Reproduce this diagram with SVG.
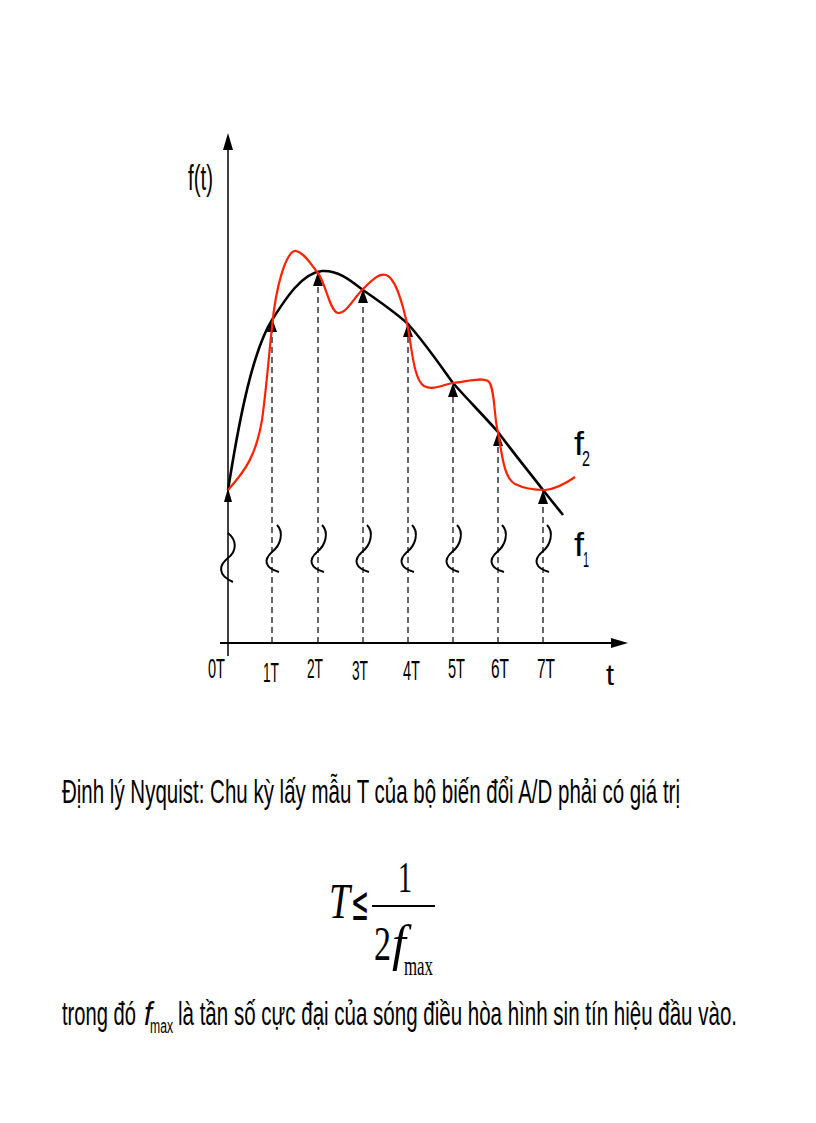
<svg xmlns="http://www.w3.org/2000/svg" width="816" height="1123" viewBox="0 0 816 1123">
<style>
.lbl{font-family:"Liberation Sans",Arial,sans-serif;fill:#000}
.ser{font-family:"Liberation Serif","Times New Roman",serif;fill:#000}
.dash{stroke:#000;stroke-width:1.2;stroke-dasharray:6,4;fill:none}
.sq{stroke:#000;stroke-width:2;fill:none}
.ah{fill:#000}
</style>
<rect width="816" height="1123" fill="#fff"/>
<g id="axes">
<line x1="228" y1="148" x2="228" y2="656" stroke="#000" stroke-width="1.5"/>
<polygon class="ah" points="228,133 223,150 233,150"/>
<line x1="220" y1="643" x2="614" y2="643" stroke="#000" stroke-width="2"/>
<polygon class="ah" points="628,643 611,638 611,648"/>
<text class="lbl" x="188" y="190" font-size="35" textLength="25" lengthAdjust="spacingAndGlyphs">f(t)</text>
<text class="lbl" x="606" y="685" font-size="30" textLength="8" lengthAdjust="spacingAndGlyphs">t</text>
</g>
<g id="tick-labels" class="lbl" font-size="27">
<text x="208" y="678" textLength="17" lengthAdjust="spacingAndGlyphs">0T</text>
<text x="263" y="682" textLength="16" lengthAdjust="spacingAndGlyphs">1T</text>
<text x="307" y="678" textLength="16" lengthAdjust="spacingAndGlyphs">2T</text>
<text x="352" y="680" textLength="16" lengthAdjust="spacingAndGlyphs">3T</text>
<text x="403" y="680" textLength="17" lengthAdjust="spacingAndGlyphs">4T</text>
<text x="448" y="678" textLength="17" lengthAdjust="spacingAndGlyphs">5T</text>
<text x="491" y="678" textLength="18" lengthAdjust="spacingAndGlyphs">6T</text>
<text x="537" y="678" textLength="18" lengthAdjust="spacingAndGlyphs">7T</text>
</g>
<g id="connectors">
<line class="dash" x1="272" y1="643" x2="272" y2="330"/>
<line class="dash" x1="318" y1="643" x2="318" y2="284"/>
<line class="dash" x1="363" y1="643" x2="363" y2="301"/>
<line class="dash" x1="408" y1="643" x2="408" y2="335"/>
<line class="dash" x1="453" y1="643" x2="453" y2="395"/>
<line class="dash" x1="498" y1="643" x2="498" y2="444"/>
<line class="dash" x1="543" y1="643" x2="543" y2="502"/>
<polygon class="ah" points="228,488 224,502 232,502"/>
<polygon class="ah" points="272,318 267,332 277,332"/>
<polygon class="ah" points="318,272 313,286 323,286"/>
<polygon class="ah" points="363,289 358,303 368,303"/>
<polygon class="ah" points="408,323 403,337 413,337"/>
<polygon class="ah" points="453,383 448,397 458,397"/>
<polygon class="ah" points="498,432 493,446 503,446"/>
<polygon class="ah" points="543,490 538,504 548,504"/>
</g>
<g id="f1-curve">
<path d="M228,490 C236,440 250,355 272,320 C286,298 302,273 322,271 C338,270 350,280 363,290 C380,302 395,312 408,324 C425,343 440,365 453,383 C468,400 483,415 498,432 C515,455 530,473 543,490 L563,515" fill="none" stroke="#000" stroke-width="2.6"/>
</g>
<g id="f2-curve">
<path d="M228,490 C246,470 256,455 262,420 C267,385 270,340 274,310 C279,275 288,250 296,251 C305,253 312,266 318,273 C326,284 330,312 338,313 C346,314 353,299 363,289 C372,280 379,273 386,275 C396,278 403,305 408,328 C412,350 414,380 424,386 C433,391 445,384 453,383 C466,382 480,377 488,381 C495,385 494,420 498,432 C502,455 504,478 515,484 C525,489 535,490 545,490 C556,489 565,484 575,477" fill="none" stroke="#ff2200" stroke-width="2.2"/>
</g>
<g id="squiggles">
<path class="sq" d="M228,533 C237,540 237,551 228,558 C219,565 217,575 233,582"/>
<path class="sq" d="M277,525 C284,532 281,545 272,552 C263,560 265,568 279,572"/>
<path class="sq" d="M322,525 C329,532 326,545 317,552 C308,560 310,568 324,572"/>
<path class="sq" d="M367,525 C374,532 371,545 362,552 C353,560 355,568 369,572"/>
<path class="sq" d="M412,525 C419,532 416,545 407,552 C398,560 400,568 414,572"/>
<path class="sq" d="M457,525 C464,532 461,545 452,552 C443,560 445,568 459,572"/>
<path class="sq" d="M502,525 C509,532 506,545 497,552 C488,560 490,568 504,572"/>
<path class="sq" d="M547,525 C554,532 551,545 542,552 C533,560 535,568 549,572"/>
</g>
<g id="labels" class="lbl">
<text x="574" y="455" font-size="34" textLength="10" lengthAdjust="spacingAndGlyphs">f</text>
<text x="582" y="466" font-size="22" textLength="8" lengthAdjust="spacingAndGlyphs">2</text>
<text x="574" y="556" font-size="34" textLength="10" lengthAdjust="spacingAndGlyphs">f</text>
<text x="583" y="567" font-size="22" textLength="6" lengthAdjust="spacingAndGlyphs">1</text>
</g>
<g id="text1">
<text class="lbl" x="62" y="803" font-size="34" textLength="618" lengthAdjust="spacingAndGlyphs">Định lý Nyquist: Chu kỳ lấy mẫu T của bộ biến đổi A/D phải có giá trị</text>
</g>
<g id="formula" class="ser">
<text x="329" y="918" font-size="50" font-style="italic" textLength="21" lengthAdjust="spacingAndGlyphs">T</text>
<text x="351" y="920" font-size="48" style="font-family:'DejaVu Sans',sans-serif" textLength="18" lengthAdjust="spacingAndGlyphs">≤</text>
<line x1="372" y1="906" x2="435" y2="906" stroke="#000" stroke-width="2"/>
<text x="398" y="892" font-size="44" textLength="14" lengthAdjust="spacingAndGlyphs">1</text>
<text x="374" y="960" font-size="48" textLength="17" lengthAdjust="spacingAndGlyphs">2</text>
<text x="392" y="960" font-size="50" font-style="italic">f</text>
<text x="404" y="975" font-size="28" textLength="29" lengthAdjust="spacingAndGlyphs">max</text>
</g>
<g id="text2" class="lbl" font-size="34">
<text x="62" y="1025" textLength="74" lengthAdjust="spacingAndGlyphs">trong đó</text>
<text x="144" y="1025" font-style="italic" textLength="8" lengthAdjust="spacingAndGlyphs">f</text>
<text x="150" y="1033" font-size="20" textLength="23" lengthAdjust="spacingAndGlyphs">max</text>
<text x="178" y="1025" textLength="559" lengthAdjust="spacingAndGlyphs">là tần số cực đại của sóng điều hòa hình sin tín hiệu đầu vào.</text>
</g>
</svg>
